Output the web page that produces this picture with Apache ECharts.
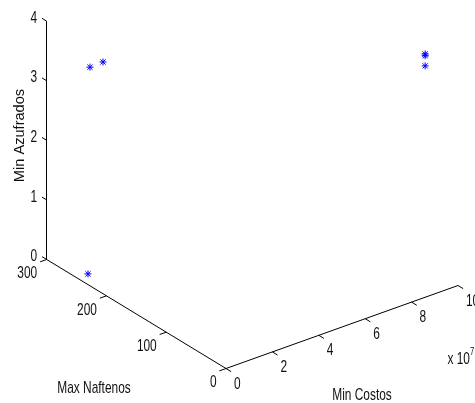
<!DOCTYPE html>
<html><head><meta charset="utf-8">
<script src="https://cdn.jsdelivr.net/npm/echarts@6/dist/echarts.min.js"></script>
<style>html,body{margin:0;padding:0;background:#fff}#c{width:475px;height:403px}</style>
</head><body><div id="c"></div>
<script>
// ---- data ----
const costos    = [0, 0, 0, 9.1e7, 9.1e7, 9.1e7];
const naftenos  = [227.6, 205.8, 230.9, 20, 20, 20];
const azufrados = [3.67, 3.89, 0.18, 3.89, 3.86, 3.69];
const costosTicks = [0, 2, 4, 6, 8, 10];      // x 10^7
const naftenosTicks = [0, 100, 200, 300];
const azufradosTicks = [0, 1, 2, 3, 4];
const costosMax = 10, costosScale = 1e7, naftenosMax = 300, azufradosMax = 4;

// ---- 3D -> plane projection (view geometry) ----
const EX = [232, 83], EY = [-179.3, 109], EZ = [0, 238.3];
function proj(x, y, z) {
  const a = x / (costosMax * costosScale), b = y / naftenosMax, c = z / azufradosMax;
  return [EX[0]*a + EY[0]*b + EZ[0]*c, EX[1]*a + EY[1]*b + EZ[1]*c];
}
function unit(v){ const l = Math.hypot(v[0], v[1]); return [v[0]/l, v[1]/l]; }
const uX = unit(EX), uY = unit(EY);

const FONT = 'Liberation Sans, Arial, sans-serif';
const FS = 17, SX = 0.7;

// axis lines, ticks and tick labels
const segs = [];
segs.push([proj(0, naftenosMax, 0), proj(0, naftenosMax, azufradosMax)]);
segs.push([proj(0, 0, 0), proj(0, naftenosMax, 0)]);
segs.push([proj(0, 0, 0), proj(costosMax*costosScale, 0, 0)]);
const labels = [];
azufradosTicks.forEach(t => {
  const p = proj(0, naftenosMax, t);
  segs.push([p, [p[0] + uY[0]*5.5, p[1] + uY[1]*5.5]]);
  labels.push({p, t: String(t), dx: -13, dy: -3, align: 'center'});
});
naftenosTicks.forEach(t => {
  const p = proj(0, t, 0);
  segs.push([p, [p[0] - uX[0]*7, p[1] - uX[1]*7]]);
  labels.push({p, t: String(t), dx: -9.5, dy: 14, align: 'right'});
});
costosTicks.forEach(t => {
  const p = proj(t*costosScale, 0, 0);
  segs.push([p, [p[0] - uY[0]*6, p[1] - uY[1]*6]]);
  labels.push({p, t: String(t), dx: 8, dy: 15.5, align: 'left'});
});
const pts = costos.map((c, i) => proj(c, naftenos[i], azufrados[i]));

const chart = echarts.init(document.getElementById('c'), null, {renderer: 'canvas'});
chart.setOption({
  animation: false,
  backgroundColor: '#fff',
  grid: {left: 0, right: 0, top: 0, bottom: 0},
  xAxis: {type: 'value', min: -226, max: 249, show: false},
  yAxis: {type: 'value', min: -34.5, max: 368.5, show: false},
  series: [
    {
      type: 'lines', coordinateSystem: 'cartesian2d', silent: true,
      lineStyle: {color: '#000', width: 1, opacity: 1},
      data: segs.map(s => ({coords: s}))
    },
    {
      type: 'custom', coordinateSystem: 'cartesian2d', silent: true,
      data: labels.map(l => l.p),
      renderItem: function (params, api) {
        const L = labels[params.dataIndex];
        const c = api.coord([api.value(0), api.value(1)]);
        return {type: 'text', x: c[0] + L.dx, y: c[1] + L.dy, scaleX: SX,
          style: {text: L.t, fill: '#111', font: FS + 'px ' + FONT, align: L.align, verticalAlign: 'middle'}};
      }
    },
    {
      type: 'custom', coordinateSystem: 'cartesian2d', silent: true,
      data: pts,
      renderItem: function (params, api) {
        const c = api.coord([api.value(0), api.value(1)]);
        const r = 3.5, d = 2.6;
        const st = {stroke: '#0000ff', lineWidth: 1};
        const L = (x1, y1, x2, y2) => ({type: 'line', shape: {x1: c[0]+x1, y1: c[1]+y1, x2: c[0]+x2, y2: c[1]+y2}, style: st});
        return {type: 'group', children: [L(-r,0,r,0), L(0,-r,0,r), L(-d,-d,d,d), L(-d,d,d,-d)]};
      }
    }
  ],
  graphic: [
    {type: 'text', x: 19.5, y: 135.5, rotation: Math.PI/2,
      style: {text: 'Min Azufrados', fill: '#111', font: '14.6px ' + FONT, align: 'center', verticalAlign: 'middle'}},
    {type: 'text', x: 94, y: 388.5, scaleX: SX,
      style: {text: 'Max Naftenos', fill: '#111', font: FS + 'px ' + FONT, align: 'center', verticalAlign: 'middle'}},
    {type: 'text', x: 362, y: 395, scaleX: SX,
      style: {text: 'Min Costos', fill: '#111', font: FS + 'px ' + FONT, align: 'center', verticalAlign: 'middle'}},
    {type: 'text', x: 447.5, y: 359, scaleX: SX,
      style: {text: 'x 10', fill: '#111', font: FS + 'px ' + FONT, align: 'left', verticalAlign: 'middle'}},
    {type: 'text', x: 470, y: 352, scaleX: SX,
      style: {text: '7', fill: '#111', font: '11px ' + FONT, align: 'left', verticalAlign: 'middle'}}
  ]
});
</script></body></html>
